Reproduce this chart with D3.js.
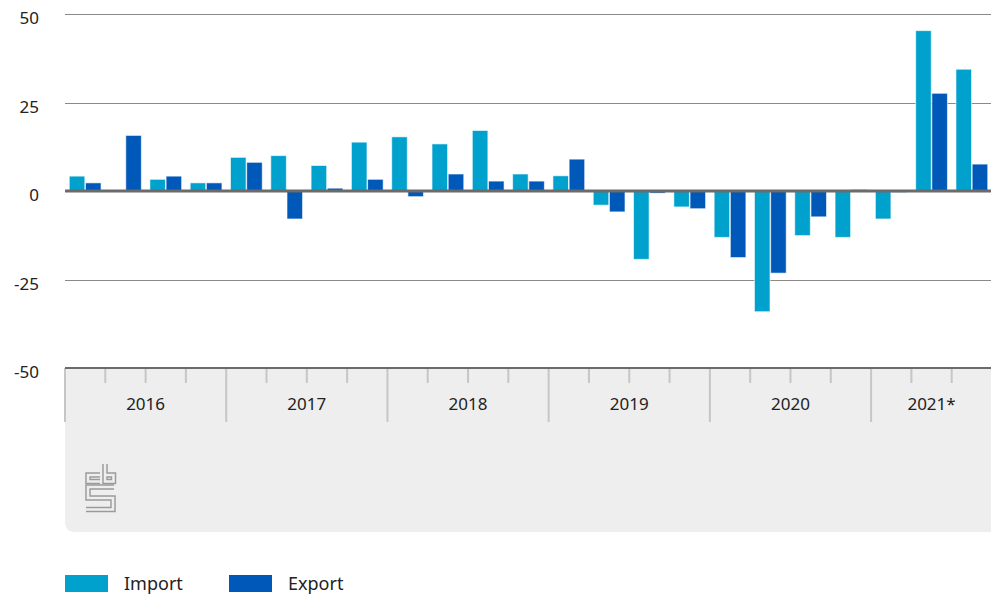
<!DOCTYPE html>
<html>
<head>
<meta charset="utf-8">
<script src="https://cdn.jsdelivr.net/npm/d3@7"></script>
<style>
  html, body { margin: 0; padding: 0; background: #ffffff; }
  svg { display: block; }
  text { font-family: "Noto Sans", "Open Sans", sans-serif; fill: #222222; }
</style>
</head>
<body>
<svg id="chart" width="991" height="596"></svg>
<script>
// Quarterly change (%) of import and export, 2016 – 2021 (provisional)
const quarters = [
  "2016 K1", "2016 K2", "2016 K3", "2016 K4",
  "2017 K1", "2017 K2", "2017 K3", "2017 K4",
  "2018 K1", "2018 K2", "2018 K3", "2018 K4",
  "2019 K1", "2019 K2", "2019 K3", "2019 K4",
  "2020 K1", "2020 K2", "2020 K3", "2020 K4",
  "2021 K1", "2021 K2", "2021 K3"
];
const importValues = [4.2, 0, 3.3, 2.3, 9.5, 10.0, 7.2, 13.8, 15.3, 13.3, 17.1, 4.8,
                      4.3, -4.0, -19.3, -4.5, -13.1, -34.1, -12.6, -13.1, -7.9, 45.3, 34.4];
const exportValues = [2.3, 15.7, 4.2, 2.3, 8.1, -7.9, 0.8, 3.3, -1.6, 4.8, 2.8, 2.8,
                      9.0, -5.9, -0.6, -5.0, -18.8, -23.2, -7.3, 0.4, -0.4, 27.6, 7.6];
const years = ["2016", "2017", "2018", "2019", "2020", "2021*"];
const quartersPerYear = [4, 4, 4, 4, 4, 3];
const yTicks = [-50, -25, 0, 25, 50];
const seriesNames = ["Import", "Export"];
const seriesColors = ["#00a1cd", "#0058b8"];

(function draw() {
  const svg = d3.select("#chart");
  const plotLeft = 65, plotRight = 992, plotTop = 14, plotBottom = 368;

  const x0 = d3.scaleBand().domain(quarters).range([plotLeft, plotRight])
    .paddingInner(0.18).paddingOuter(0.09);
  const x1 = d3.scaleBand().domain(seriesNames).range([0, x0.bandwidth()]).padding(0.04);
  const y = d3.scaleLinear().domain([-50, 50]).range([plotBottom, plotTop]);
  const color = d3.scaleOrdinal().domain(seriesNames).range(seriesColors);

  // horizontal gridlines
  svg.append("g").selectAll("line")
    .data(yTicks.filter(t => t !== 0 && t !== -50))
    .join("line")
    .attr("x1", plotLeft).attr("x2", 991)
    .attr("y1", d => Math.round(y(d)) + 0.5).attr("y2", d => Math.round(y(d)) + 0.5)
    .attr("stroke", "#8a8a8a").attr("stroke-width", 1);

  // y axis labels (plain hyphen for negatives)
  const yAxis = d3.axisLeft(y).tickValues(yTicks).tickSize(0).tickPadding(0)
    .tickFormat(d => String(d));
  const yg = svg.append("g").attr("transform", "translate(39,0)").call(yAxis);
  yg.select(".domain").remove();
  yg.selectAll("text")
    .attr("font-size", 17).attr("dy", "0.36em").attr("y", 3.5)
    .attr("font-family", "Noto Sans, Open Sans, sans-serif").attr("fill", "#222");

  // bars
  const rows = quarters.map((q, i) => ({ q, values: [importValues[i], exportValues[i]] }));
  svg.append("g").selectAll("g")
    .data(rows).join("g")
    .attr("transform", d => `translate(${x0(d.q)},0)`)
    .selectAll("rect")
    .data(d => d.values.map((v, j) => ({ key: seriesNames[j], v })))
    .join("rect")
    .attr("x", d => x1(d.key))
    .attr("width", x1.bandwidth())
    .attr("y", d => y(Math.max(0, d.v)))
    .attr("height", d => Math.abs(y(d.v) - y(0)))
    .attr("fill", d => color(d.key))
    .attr("stroke", "#ffffff").attr("stroke-opacity", 0.6).attr("stroke-width", 1);

  // zero line
  svg.append("line")
    .attr("x1", plotLeft).attr("x2", 991)
    .attr("y1", y(0)).attr("y2", y(0))
    .attr("stroke", "#6b6b6b").attr("stroke-width", 3);

  // category panel under the plot
  const pTop = plotBottom, pBottom = 532, r = 10;
  svg.append("path")
    .attr("d", `M${plotLeft},${pTop} H995 V${pBottom} H${plotLeft + r} Q${plotLeft},${pBottom} ${plotLeft},${pBottom - r} Z`)
    .attr("fill", "#eeeeee");

  // quarter and year boundary ticks
  const step = x0.step();
  const starts = Array.from(d3.cumsum([0, ...quartersPerYear.slice(0, -1)]));
  const yearStarts = new Set(starts);
  svg.append("g").selectAll("line")
    .data(d3.range(quarters.length)).join("line")
    .attr("x1", i => plotLeft + i * step).attr("x2", i => plotLeft + i * step)
    .attr("y1", pTop).attr("y2", i => yearStarts.has(i) ? 422 : 383)
    .attr("stroke", "#c6c6c6").attr("stroke-width", 2);

  // bottom axis line
  svg.append("line")
    .attr("x1", plotLeft).attr("x2", 991)
    .attr("y1", plotBottom).attr("y2", plotBottom)
    .attr("stroke", "#6b6b6b").attr("stroke-width", 2);

  // year labels, centred on their quarters
  svg.append("g").selectAll("text")
    .data(years.map((yr, k) => ({ yr, s: starts[k], n: quartersPerYear[k] })))
    .join("text")
    .attr("x", d => plotLeft + (d.s + d.n / 2) * step)
    .attr("y", 410)
    .attr("text-anchor", "middle")
    .attr("font-size", 17)
    .text(d => d.yr);

  // cbs logo
  const logo = svg.append("g").attr("transform", "translate(86,464)")
    .attr("fill", "none").attr("stroke-linejoin", "miter").attr("stroke-linecap", "butt");
  const logoPaths = [
    "M14,11 H2 V17.5 H14",
    "M19,0 V17.5 H27.5 V11 H19",
    "M28,23 H2 V34 H27 V45.5 H0"
  ];
  logo.selectAll("path.o").data(logoPaths).join("path").attr("class", "o")
    .attr("d", d => d).attr("stroke", "#9a9a9a").attr("stroke-width", 5.5);
  logo.selectAll("path.i").data(logoPaths).join("path").attr("class", "i")
    .attr("d", d => d).attr("stroke", "#eeeeee").attr("stroke-width", 2.6);

  // legend
  const legend = svg.append("g").selectAll("g")
    .data(seriesNames).join("g")
    .attr("transform", (d, i) => `translate(${65 + i * 164},575)`);
  legend.append("rect").attr("width", 43).attr("height", 17).attr("fill", d => color(d));
  legend.append("text").attr("x", 59).attr("y", 15).attr("font-size", 18).text(d => d);
})();
</script>
</body>
</html>
